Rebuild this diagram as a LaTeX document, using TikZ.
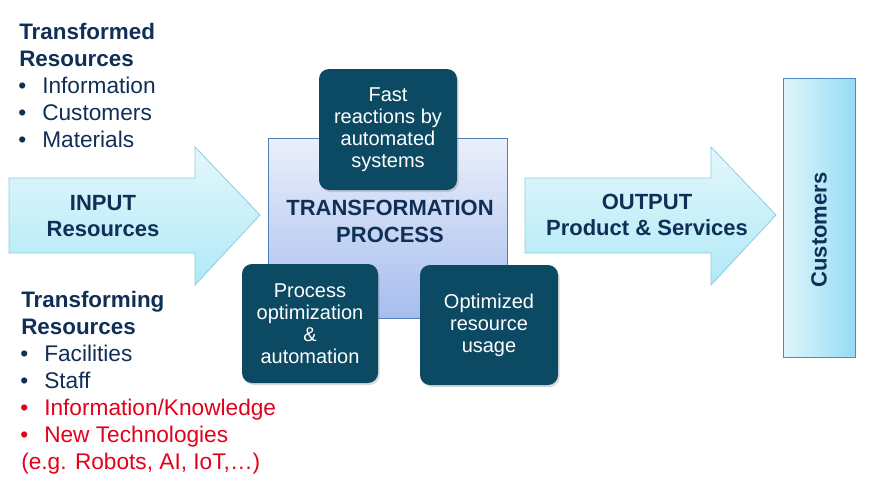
\documentclass[tikz,border=0pt]{standalone}
\usepackage{fontspec}
\setmainfont{Liberation Sans}
\usetikzlibrary{shadows}
\definecolor{navy}{RGB}{16,47,86}
\definecolor{techred}{RGB}{226,0,26}
\definecolor{darkteal}{RGB}{12,74,99}
\definecolor{arrowtop}{RGB}{228,247,252}
\definecolor{arrowbot}{RGB}{176,233,246}
\definecolor{arrowline}{RGB}{140,205,225}
\definecolor{proctop}{RGB}{234,239,251}
\definecolor{procbot}{RGB}{166,189,238}
\definecolor{procline}{RGB}{79,129,189}
\definecolor{custleft}{RGB}{224,245,252}
\definecolor{custright}{RGB}{150,220,244}
\definecolor{custline}{RGB}{74,140,200}

\begin{document}
\begin{tikzpicture}[x=0.75pt,y=-0.75pt,
  head/.style={font=\fontsize{16.8}{20}\selectfont\bfseries, text=navy, inner sep=0pt, anchor=base west},
  item/.style={font=\fontsize{17}{20}\selectfont, text=navy, inner sep=0pt, anchor=base west},
  reditem/.style={item, text=techred},
  bigtxt/.style={font=\fontsize{16.5}{20}\selectfont\bfseries, text=navy, align=center, inner sep=0pt},
  darkbox/.style={fill=darkteal, rounded corners=7.5pt, text=white, align=center,
    font=\fontsize{15}{16.5}\selectfont, inner sep=0pt,
    drop shadow={shadow xshift=1.2pt, shadow yshift=-1.5pt, opacity=0.3}}]
\useasboundingbox (0,0) rectangle (869,497);

\foreach \x in {9,525}
  \shade [top color=arrowtop, bottom color=arrowbot, draw=arrowline, line width=0.6pt]
    (\x,178) -- ++(186,0) -- ++(0,-31) -- ++(65,68) -- ++(-65,70) -- ++(0,-32) -- ++(-186,0) -- cycle;
\node [bigtxt] (input)  at (103,216) {INPUT\\Resources};
\node [bigtxt] (output) at (647,215) {OUTPUT\\Product \& Services};

\node [shade, top color=proctop, bottom color=procbot, draw=procline, line width=0.5pt,
       minimum width=179.25pt, minimum height=135pt] (proc) at (387.5,228) {};
\node [bigtxt] (proctxt) at (390,221.5) {TRANSFORMATION\\PROCESS};

\node [darkbox, minimum width=103.5pt, minimum height=90.75pt] (fast) at (388,129.5)
  {Fast\\reactions by\\automated\\systems};
\node [darkbox, minimum width=102pt, minimum height=89.25pt] (optim) at (310,323.5)
  {Process\\optimization\\\&\\automation};
\node [darkbox, minimum width=103.5pt, minimum height=90pt] (usage) at (489,325)
  {Optimized\\resource\\usage};

\node [shade, left color=custleft, right color=custright, draw=custline, line width=0.6pt,
       minimum width=54pt, minimum height=209.25pt] (cust) at (819,217.5) {};
\node [bigtxt, rotate=90] (custtxt) at (819,230) {Customers};

\node [head] (tfd1) at (19,39) {Transformed};
\node [head] (tfd2) at (19,66) {Resources};
\foreach \t [count=\i] in {Information,Customers,Materials} {
  \node [item] (tfdb\i) at (18,66+27*\i) {\textbullet};
  \node [item] (tfdi\i) at (42,66+27*\i) {\t};
}

\node [head] (tfg1) at (21,307) {Transforming};
\node [head] (tfg2) at (21,334) {Resources};
\foreach \t [count=\i] in {Facilities,Staff} {
  \node [item] (tfgb\i) at (20,334+27*\i) {\textbullet};
  \node [item] (tfgi\i) at (44,334+27*\i) {\t};
}
\node [reditem] (tfgb3) at (20,415) {\textbullet};
\node [reditem] (tfgi3) at (44,415) {Information/Knowledge};
\node [reditem] (tfgb4) at (20,442) {\textbullet};
\node [reditem] (tfgi4) at (44,442) {New Technologies};
\node [reditem] (tfgeg) at (21,469) {(e.g. Robots, AI, IoT,…)};
\end{tikzpicture}
\end{document}
